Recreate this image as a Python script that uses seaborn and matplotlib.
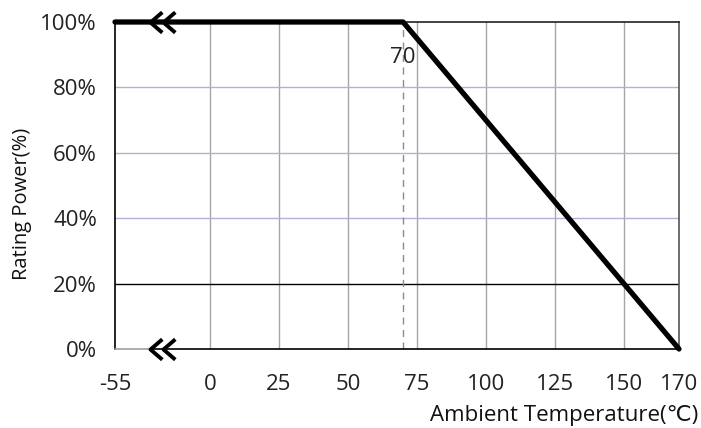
import numpy as np
import matplotlib
matplotlib.use("Agg")
import matplotlib.pyplot as plt
from matplotlib.path import Path
import seaborn as sns

# derating curve: full power up to 70 C, then linear down to 0 at 170 C
temp_c = [-55, 70, 170]
power_pct = [100, 100, 0]
knee_temp = 70
x_ticks = [-55, 0, 25, 50, 75, 100, 125, 150, 170]
x_grid = [0, 25, 50, 75, 100, 125, 150]
y_ticks = [0, 20, 40, 60, 80, 100]
y_grid = [20, 40, 60, 80]

# axis is broken between -55 and 0, that stretch is squeezed
squeeze = 34.4 / 55


def to_axis(t):
    t = np.asarray(t, dtype=float)
    return np.where(t < 0, t * squeeze, t)


sns.set_theme(style="white")
plt.rcParams["font.family"] = ["Open Sans", "DejaVu Sans"]
fs = 16
txt = "#222222"

fig = plt.figure(figsize=(7.01, 4.28), dpi=100)
ax = fig.add_axes([115 / 701, 79 / 428, 564 / 701, 327 / 428])

# grid
for t in x_grid:
    ax.axvline(t, color="#a6a6a6", lw=1, zorder=1)
for p in y_grid:
    ax.axhline(p, color="black" if p == 20 else "#b7aed3", lw=1, zorder=1)

# dashed guide at the knee
ax.plot([knee_temp, knee_temp], [0, 100], color="#8c8c8c", lw=1,
        ls=(0, (5, 4)), zorder=2)
ax.text(knee_temp, 89.0, str(knee_temp), ha="center", va="center",
        fontsize=fs, color=txt)

sns.lineplot(x=to_axis(temp_c), y=power_pct, ax=ax, color="black",
             lw=3.8, clip_on=False, zorder=5)

xmin = float(to_axis(-55))
ax.set_xlim(xmin, 170)
ax.set_ylim(0, 100)

# bottom line: grey before the break, black after
brk = [-21.7, -17.0]
ax.plot([xmin, brk[0]], [0, 0], color="#a0a0a0", lw=1.2, clip_on=False, zorder=4)
ax.plot([brk[0], 170], [0, 0], color="black", lw=1.2, clip_on=False, zorder=4)

chev = Path([(1.16, 1), (0, 0), (1.16, -1)],
            [Path.MOVETO, Path.LINETO, Path.LINETO])
for yb in [0, 100]:
    ax.plot(brk, [yb, yb], ls="none", marker=chev, ms=17, mfc="none",
            mec="black", mew=2.8, clip_on=False, zorder=6)

for side in ["left", "top", "right", "bottom"]:
    ax.spines[side].set_zorder(3)
ax.spines["left"].set_color("black")
ax.spines["top"].set_color("#222222")
ax.spines["right"].set_color("#555555")
ax.spines["bottom"].set_visible(False)
for side in ["left", "top", "right"]:
    ax.spines[side].set_linewidth(1.2)

ax.set_xticks(to_axis(x_ticks))
ax.set_xticklabels([str(t) for t in x_ticks])
ax.set_yticks(y_ticks)
ax.set_yticklabels([f"{p}%" for p in y_ticks])
ax.tick_params(axis="x", length=0, pad=18, labelsize=fs, labelcolor=txt)
ax.tick_params(axis="y", length=0, pad=13, labelsize=fs, labelcolor=txt)

fig.text(22 / 701, 1 - 204 / 428, "Rating Power(%)", rotation=90,
         ha="center", va="center", fontsize=14.5, color="#111111")
fig.text(698 / 701, 1 - 416 / 428, "Ambient Temperature(\u2103)",
         ha="right", va="center", fontsize=fs, color="#111111")

fig.savefig("out.png", dpi=100)
